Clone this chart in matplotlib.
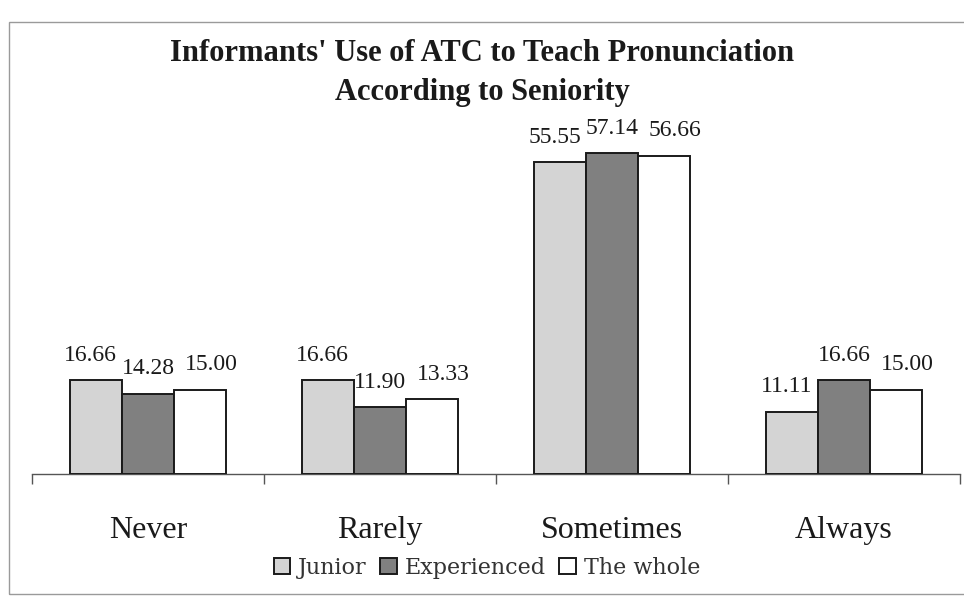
import matplotlib.pyplot as plt
import numpy as np
from matplotlib.patches import Rectangle

categories = ['Never', 'Rarely', 'Sometimes', 'Always']
series = ['Junior', 'Experienced', 'The whole']
junior = [16.66, 16.66, 55.55, 11.11]
experienced = [14.28, 11.90, 57.14, 16.66]
whole = [15.00, 13.33, 56.66, 15.00]

title_1 = "Informants' Use of ATC to Teach Pronunciation"
title_2 = "According to Seniority"

colors = ['#d4d4d4', '#808080', '#ffffff']
serif = ['Liberation Serif', 'DejaVu Serif']

fig = plt.figure(figsize=(9.64, 5.96), dpi=100)
ax = fig.add_axes([0.0332, 0.2047, 0.9627, 0.6124])

x = np.arange(len(categories))
width = 0.224
label_dx = [-4, 0, 8]  # label nudge per series, points

for i, (name, vals) in enumerate(zip(series, [junior, experienced, whole])):
    pos = x + (i - 1) * width
    bars = ax.bar(pos, vals, width, color=colors[i], edgecolor='#1a1a1a',
                  linewidth=1.4, label=name, zorder=3)
    for b, v in zip(bars, vals):
        ax.annotate(f'{v:.2f}', (b.get_x() + b.get_width() / 2, v),
                    xytext=(label_dx[i], 14), textcoords='offset points',
                    ha='center', va='baseline', fontsize=17,
                    family=serif, color='#1a1a1a')

ax.set_xlim(-0.5, len(categories) - 0.5)
ax.set_ylim(0, 65)
ax.set_yticks([])
for s in ['top', 'right', 'left']:
    ax.spines[s].set_visible(False)
ax.spines['bottom'].set_color('#555555')
ax.spines['bottom'].set_linewidth(1)

# category separators as major ticks, names on minor ticks
ax.set_xticks(np.arange(-0.5, len(categories), 1.0))
ax.set_xticklabels([])
ax.tick_params(axis='x', which='major', direction='out', length=7,
               color='#555555', width=1)
ax.set_xticks(x, minor=True)
ax.set_xticklabels(categories, minor=True, fontsize=23, family=serif,
                   color='#1a1a1a')
ax.tick_params(axis='x', which='minor', length=0, pad=30)

fig.text(0.5, 1 - 61 / 596, title_1, ha='center', va='baseline',
         fontsize=22, fontweight='bold', family=serif, color='#1a1a1a')
fig.text(0.5, 1 - 100 / 596, title_2, ha='center', va='baseline',
         fontsize=22, fontweight='bold', family=serif, color='#1a1a1a')

leg = fig.legend(loc='center', bbox_to_anchor=(0.505, 1 - 568 / 596), ncol=3,
                 frameon=False, handlelength=0.75, handleheight=0.75,
                 handletextpad=0.35, columnspacing=0.6,
                 prop={'family': ['DejaVu Serif'], 'size': 16})
for t in leg.get_texts():
    t.set_color('#333333')

# outer chart frame (left, top, bottom edges)
fig.patches.append(Rectangle((9 / 964, 2 / 596), 1.0, 572 / 596,
                             transform=fig.transFigure, fill=False,
                             edgecolor='#9a9a9a', linewidth=1))

fig.savefig('out.png', dpi=100)
